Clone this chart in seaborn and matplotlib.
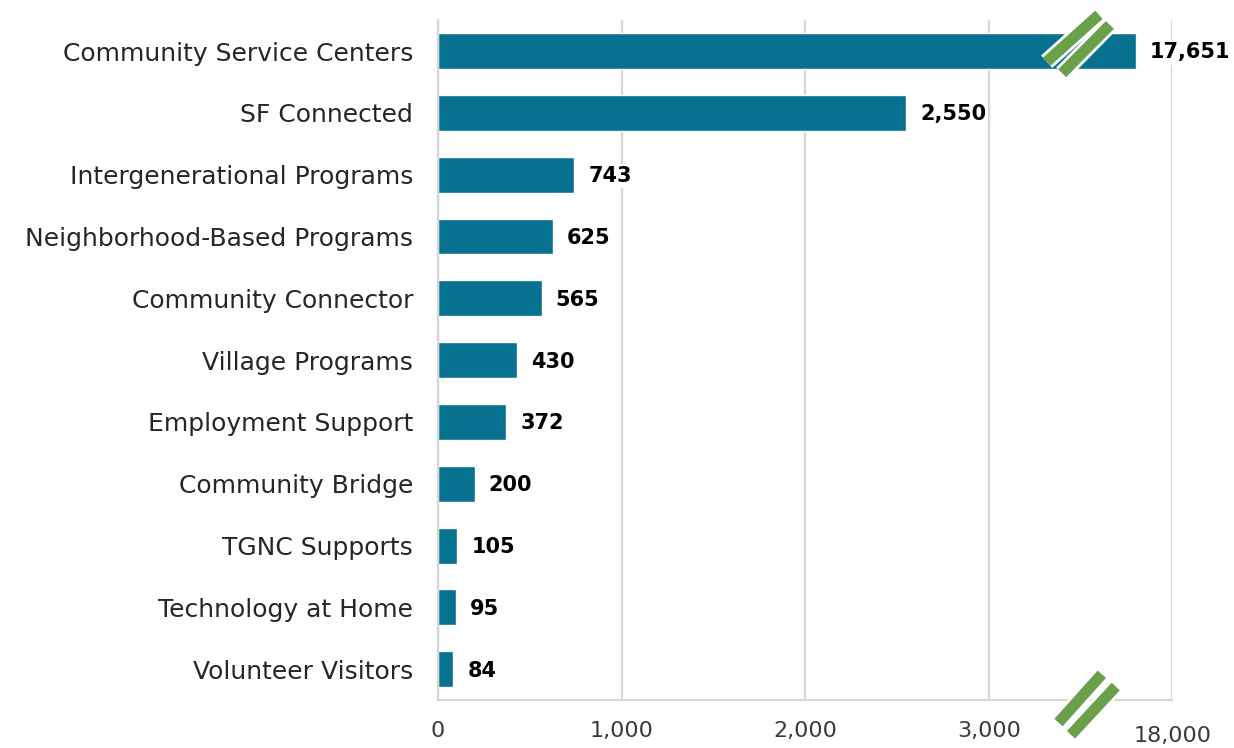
import numpy as np
import pandas as pd
import matplotlib.pyplot as plt
import matplotlib.patheffects as pe
import seaborn as sns

sns.set_theme(style="whitegrid")
plt.rcParams['font.family'] = ['DejaVu Sans']

# dados
programas = ["Community Service Centers", "SF Connected", "Intergenerational Programs",
             "Neighborhood-Based Programs", "Community Connector", "Village Programs",
             "Employment Support", "Community Bridge", "TGNC Supports",
             "Technology at Home", "Volunteer Visitors"]
participantes = [17651, 2550, 743, 625, 565, 430, 372, 200, 105, 95, 84]
ticks = [0, 1000, 2000, 3000, 18000]

df = pd.DataFrame({"programa": programas, "participantes": participantes})

# eixo quebrado: 3450..17300 comprimido
pts_dados = [0, 3450, 17300, 18000]
pts_tela = [0, 3450, 3600, 4000]

def fwd(x):
    return np.interp(x, pts_dados, pts_tela)

def inv(y):
    return np.interp(y, pts_tela, pts_dados)

fig = plt.figure(figsize=(12.34, 7.48), dpi=100)
ax = fig.add_axes([0.355, 0.064, 0.595, 0.909])

sns.barplot(data=df, y="programa", x="participantes", orient="h",
            color="#06728F", saturation=1, width=0.58, ax=ax)

ax.set_xscale("function", functions=(fwd, inv))
ax.set_xlim(0, 18000)
ax.set_ylim(len(programas) - 0.5, -0.5)
ax.set_xticks(ticks)
ax.set_xticklabels([f"{t:,}" for t in ticks], fontsize=16, color="#3a3a3a")
ax.tick_params(axis="x", length=0, pad=15)
ax.tick_params(axis="y", length=0, pad=18, labelsize=18, labelcolor="#262626")
ax.set_xlabel("")
ax.set_ylabel("")

ax.grid(axis="x", color="#d6d6d6", linewidth=1.6)
ax.grid(axis="y", visible=False)
for s in ["top", "right"]:
    ax.spines[s].set_visible(False)
for s in ["left", "bottom"]:
    ax.spines[s].set_color("#d6d6d6")
    ax.spines[s].set_linewidth(1.6)

# 18,000 um pouco mais baixo
ax.get_xticklabels()[-1].set_y(-0.007)

# rótulos de valor
for i, v in enumerate(participantes):
    ax.annotate(f"{v:,}", xy=(v, i), xytext=(10, -1), textcoords="offset points",
                va="center", ha="left", fontsize=15, fontweight="bold", color="black",
                bbox=dict(boxstyle="square,pad=0.1", fc="white", ec="none"))

# marcas de quebra
verde = "#6A9F4C"
efeito = [pe.Stroke(linewidth=12, foreground="white"), pe.Normal()]
for (x0, y0, x1, y1) in [(0.829, 0.939, 0.900, 1.008), (0.850, 0.922, 0.915, 0.993),
                          (0.845, -0.033, 0.904, 0.038), (0.862, -0.051, 0.923, 0.020)]:
    ax.plot([x0, x1], [y0, y1], transform=ax.transAxes, color=verde, lw=8,
            solid_capstyle="butt", clip_on=False, path_effects=efeito, zorder=5)

plt.savefig("out.png", dpi=100)
plt.close()
